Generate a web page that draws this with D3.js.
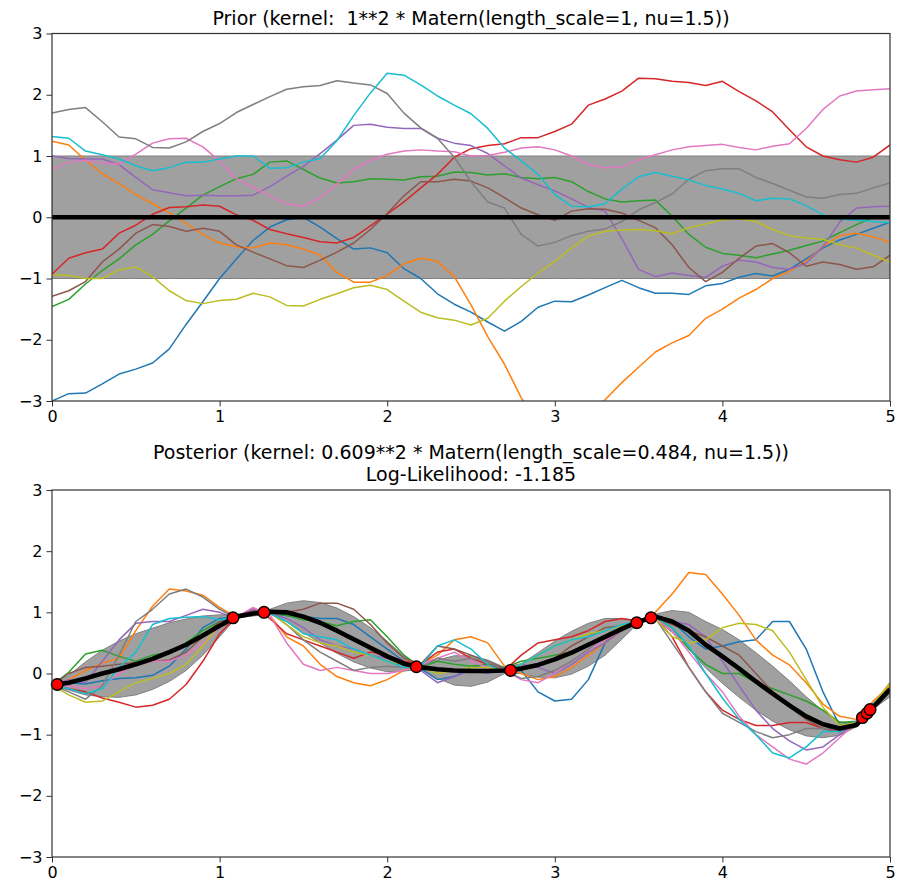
<!DOCTYPE html>
<html lang="en">
<head>
<meta charset="UTF-8">
<title>Gaussian process prior and posterior (Matern kernel)</title>
<script src="https://d3js.org/d3.v7.min.js"></script>
<style>
  body { margin: 0; background: #fff; font-family: "DejaVu Sans", sans-serif; }
  .tick text { font-family: "DejaVu Sans", sans-serif; fill: #000; }
  .tick line { stroke: #333; }
</style>
</head>
<body>
<div id="chart"></div>
<script>
// shared x grid 0 .. 5 step 0.1
const xs = d3.range(0, 51).map(i => i / 10);
const xTicks = [0, 1, 2, 3, 4, 5];
const yTicks = [-3, -2, -1, 0, 1, 2, 3];
const sampleColors = ["#1f77b4", "#ff7f0e", "#2ca02c", "#d62728", "#9467bd",
                      "#8c564b", "#e377c2", "#7f7f7f", "#bcbd22", "#17becf"];

// prior: mean 0, std 1
const priorMean = 0;
const priorStd = 1;

const priorBlue = [
  -3.0, -2.88, -2.87, -2.72, -2.56, -2.48, -2.38, -2.15, -1.75, -1.38,
  -1.0, -0.68, -0.38, -0.16, -0.04, 0.0, -0.16, -0.35, -0.52, -0.5,
  -0.58, -0.84, -1.0, -1.25, -1.42, -1.55, -1.71, -1.86, -1.7, -1.47,
  -1.37, -1.38, -1.27, -1.15, -1.03, -1.15, -1.24, -1.24, -1.26, -1.12,
  -1.08, -0.98, -0.92, -0.96, -0.85, -0.68, -0.5, -0.37, -0.28, -0.18, -0.08];
const priorOrange = [
  1.24, 1.18, 0.93, 0.71, 0.55, 0.37, 0.22, 0.07, -0.1, -0.28,
  -0.42, -0.48, -0.5, -0.42, -0.45, -0.52, -0.62, -0.9, -1.06, -1.06,
  -0.95, -0.76, -0.67, -0.72, -0.97, -1.43, -1.95, -2.4, -2.95, -3.3,
  -3.5, -3.5, -3.3, -2.98, -2.7, -2.45, -2.2, -2.05, -1.93, -1.65,
  -1.5, -1.32, -1.18, -1.0, -0.88, -0.72, -0.48, -0.3, -0.26, -0.32, -0.41];
const priorGreen = [
  -1.46, -1.34, -1.09, -0.87, -0.68, -0.45, -0.28, -0.06, 0.15, 0.36,
  0.5, 0.63, 0.7, 0.9, 0.92, 0.78, 0.64, 0.56, 0.58, 0.63,
  0.62, 0.61, 0.66, 0.67, 0.74, 0.73, 0.69, 0.71, 0.65, 0.63,
  0.65, 0.58, 0.42, 0.3, 0.25, 0.27, 0.28, 0.02, -0.28, -0.49,
  -0.59, -0.62, -0.66, -0.6, -0.54, -0.46, -0.39, -0.25, -0.12, 0.0, 0.03];
const priorRed = [
  -0.93, -0.67, -0.58, -0.52, -0.26, -0.13, 0.05, 0.16, 0.17, 0.2,
  0.18, 0.04, -0.05, -0.2, -0.27, -0.33, -0.4, -0.42, -0.33, -0.14,
  0.05, 0.25, 0.48, 0.7, 0.98, 1.12, 1.17, 1.2, 1.3, 1.3,
  1.4, 1.52, 1.83, 1.93, 2.06, 2.27, 2.26, 2.22, 2.2, 2.15,
  2.22, 2.05, 1.9, 1.72, 1.43, 1.15, 1.0, 0.94, 0.9, 0.98, 1.18];
const priorPurple = [
  1.0, 0.96, 0.95, 0.95, 0.86, 0.65, 0.45, 0.4, 0.35, 0.36,
  0.35, 0.35, 0.36, 0.5, 0.67, 0.83, 1.04, 1.26, 1.5, 1.52,
  1.47, 1.45, 1.45, 1.29, 1.21, 1.17, 1.04, 0.84, 0.64, 0.53,
  0.43, 0.3, 0.16, 0.1, -0.35, -0.85, -0.97, -0.91, -0.95, -0.98,
  -0.8, -0.7, -0.73, -0.82, -0.85, -0.75, -0.48, -0.08, 0.15, 0.17, 0.18];
const priorBrown = [
  -1.29, -1.2, -1.05, -0.73, -0.52, -0.26, -0.12, -0.15, -0.23, -0.18,
  -0.23, -0.45, -0.57, -0.68, -0.79, -0.82, -0.7, -0.57, -0.42, -0.2,
  0.06, 0.35, 0.58, 0.58, 0.62, 0.59, 0.48, 0.32, 0.15, 0.04,
  -0.05, 0.1, 0.14, 0.13, 0.07, -0.05, -0.17, -0.45, -0.82, -1.05,
  -0.9, -0.67, -0.47, -0.43, -0.58, -0.8, -0.73, -0.77, -0.85, -0.81, -0.62];
const priorPink = [
  0.78, 0.9, 0.93, 0.88, 0.87, 1.03, 1.21, 1.28, 1.29, 1.15,
  0.92, 0.63, 0.49, 0.35, 0.22, 0.18, 0.32, 0.54, 0.78, 0.93,
  1.03, 1.08, 1.1, 1.08, 1.07, 1.0, 1.01, 1.06, 1.13, 1.15,
  1.1, 1.0, 0.86, 0.81, 0.82, 0.94, 1.02, 1.1, 1.15, 1.17,
  1.19, 1.14, 1.1, 1.16, 1.2, 1.45, 1.76, 1.98, 2.06, 2.08, 2.1];
const priorGray = [
  1.7, 1.76, 1.79, 1.56, 1.31, 1.28, 1.14, 1.13, 1.23, 1.4,
  1.53, 1.71, 1.84, 1.97, 2.09, 2.13, 2.15, 2.23, 2.19, 2.16,
  2.02, 1.7, 1.46, 1.29, 0.98, 0.58, 0.25, 0.15, -0.28, -0.47,
  -0.41, -0.3, -0.23, -0.19, -0.07, 0.12, 0.24, 0.38, 0.62, 0.76,
  0.79, 0.79, 0.65, 0.55, 0.44, 0.33, 0.31, 0.37, 0.39, 0.48, 0.56];
const priorOlive = [
  -0.94, -0.95, -1.0, -1.0, -0.86, -0.81, -0.97, -1.2, -1.36, -1.41,
  -1.36, -1.34, -1.24, -1.3, -1.44, -1.45, -1.34, -1.25, -1.15, -1.11,
  -1.18, -1.37, -1.55, -1.64, -1.68, -1.76, -1.65, -1.37, -1.13, -0.91,
  -0.72, -0.5, -0.31, -0.23, -0.21, -0.2, -0.22, -0.27, -0.17, -0.11,
  -0.04, -0.02, -0.07, -0.2, -0.3, -0.34, -0.36, -0.45, -0.5, -0.62, -0.73];
const priorCyan = [
  1.32, 1.29, 1.08, 1.02, 0.95, 0.84, 0.76, 0.81, 0.9, 0.9,
  0.95, 1.0, 1.0, 0.8, 0.81, 0.9, 0.96, 1.25, 1.66, 2.03,
  2.35, 2.32, 2.16, 1.98, 1.83, 1.69, 1.45, 1.13, 0.92, 0.7,
  0.37, 0.18, 0.17, 0.22, 0.46, 0.66, 0.73, 0.67, 0.61, 0.52,
  0.46, 0.39, 0.27, 0.31, 0.3, 0.19, 0.04, -0.03, -0.05, -0.07, -0.09];

// posterior: observed points, mean and std
const obsX = [0.031, 1.080, 1.265, 2.174, 2.736, 3.489, 3.574, 4.835, 4.863, 4.881];
const obsY = [-0.18, 0.91, 1.0, 0.11, 0.05, 0.83, 0.91, -0.72, -0.65, -0.59];
const postMean = [
  -0.19, -0.15, -0.08, 0.0, 0.07, 0.15, 0.24, 0.35, 0.47, 0.62,
  0.78, 0.93, 0.98, 1.01, 1.0, 0.93, 0.83, 0.7, 0.56, 0.42,
  0.28, 0.16, 0.1, 0.07, 0.05, 0.04, 0.04, 0.05, 0.08, 0.14,
  0.23, 0.34, 0.47, 0.6, 0.73, 0.85, 0.93, 0.85, 0.7, 0.47,
  0.28, 0.08, -0.13, -0.33, -0.52, -0.7, -0.83, -0.9, -0.84, -0.55, -0.26];
const postStd = [
  0.01, 0.12, 0.27, 0.38, 0.46, 0.5, 0.5, 0.48, 0.42, 0.32,
  0.18, 0.02, 0.04, 0.04, 0.15, 0.26, 0.33, 0.37, 0.37, 0.33,
  0.25, 0.12, 0.03, 0.15, 0.24, 0.25, 0.18, 0.05, 0.08, 0.2,
  0.3, 0.35, 0.35, 0.3, 0.17, 0.02, 0.04, 0.18, 0.3, 0.38,
  0.44, 0.47, 0.47, 0.45, 0.4, 0.32, 0.22, 0.11, 0.03, 0.03, 0.12];

const postBlue = [
  -0.19, -0.15, -0.17, -0.12, -0.08, -0.07, -0.03, 0.12, 0.4, 0.75,
  0.9, 0.93, 0.97, 0.98, 0.95, 0.93, 0.9, 0.9, 0.8, 0.6,
  0.4, 0.2, 0.08, -0.1, -0.05, 0.1, 0.15, 0.08, 0.05, -0.3,
  -0.45, -0.42, -0.1, 0.5, 0.75, 0.85, 0.95, 0.85, 0.6, 0.4,
  0.45, 0.52, 0.55, 0.85, 0.85, 0.4, -0.3, -0.85, -0.78, -0.5, -0.25];
const postOrange = [
  -0.19, -0.1, 0.05, 0.17, 0.25, 0.7, 1.1, 1.38, 1.35, 1.28,
  1.08, 0.92, 0.98, 0.95, 0.6, 0.45, 0.15, -0.05, -0.15, -0.2,
  -0.1, 0.05, 0.15, 0.3, 0.55, 0.6, 0.5, 0.12, 0.0, -0.1,
  -0.05, 0.1, 0.3, 0.5, 0.7, 0.85, 1.0, 1.3, 1.65, 1.62,
  1.3, 0.95, 0.55, 0.3, 0.14, -0.15, -0.5, -0.7, -0.75, -0.45, -0.2];
const postGreen = [
  -0.19, 0.02, 0.32, 0.38, 0.28, 0.2, 0.3, 0.35, 0.5, 0.7,
  0.85, 0.93, 1.0, 1.0, 0.95, 0.88, 0.85, 0.78, 0.85, 0.88,
  0.6, 0.3, 0.1, 0.2, 0.15, 0.12, 0.15, 0.1, 0.2, 0.25,
  0.3, 0.35, 0.5, 0.55, 0.7, 0.85, 0.9, 0.75, 0.4, 0.15,
  0.0, 0.0, -0.15, -0.25, -0.35, -0.45, -0.6, -0.8, -0.78, -0.5, -0.3];
const postRed = [
  -0.19, -0.25, -0.3, -0.4, -0.47, -0.55, -0.52, -0.42, -0.18, 0.2,
  0.65, 0.93, 1.05, 0.9, 0.65, 0.55, 0.45, 0.35, 0.25, 0.35,
  0.3, 0.2, 0.15, 0.35, 0.4, 0.25, 0.15, 0.05, 0.3, 0.5,
  0.55, 0.6, 0.7, 0.85, 0.9, 0.85, 0.9, 0.6, 0.1, -0.3,
  -0.6, -0.75, -0.85, -0.85, -0.8, -0.8, -0.9, -0.95, -0.8, -0.5, -0.25];
const postPurple = [
  -0.19, -0.1, -0.15, 0.2, 0.55, 0.82, 0.85, 0.85, 0.95, 1.05,
  1.0, 0.9, 1.05, 0.98, 0.9, 0.75, 0.55, 0.45, 0.4, 0.3,
  0.25, 0.15, 0.05, -0.15, -0.05, 0.05, 0.0, 0.1, 0.15, 0.1,
  0.0, 0.15, 0.35, 0.5, 0.7, 0.85, 0.9, 0.85, 0.8, 0.6,
  0.2, -0.2, -0.6, -0.9, -1.1, -1.25, -1.2, -1.0, -0.8, -0.55, -0.3];
const postBrown = [
  -0.19, 0.0, 0.1, 0.12, 0.15, 0.18, 0.2, 0.22, 0.35, 0.6,
  0.85, 0.92, 1.02, 1.02, 1.0, 1.05, 1.15, 1.15, 1.05, 0.8,
  0.5, 0.25, 0.15, 0.45, 0.4, 0.3, 0.2, 0.08, 0.1, 0.15,
  0.25, 0.45, 0.6, 0.75, 0.78, 0.82, 0.9, 0.8, 0.7, 0.6,
  0.45, 0.3, 0.0, -0.3, -0.55, -0.75, -0.9, -0.95, -0.8, -0.55, -0.3];
const postPink = [
  -0.19, -0.2, -0.25, -0.2, 0.0, 0.15, 0.2, 0.2, 0.3, 0.5,
  0.75, 0.92, 1.08, 0.95, 0.5, 0.15, 0.05, 0.1, 0.05, 0.0,
  0.0, 0.05, 0.15, 0.25, 0.35, 0.2, 0.1, 0.05, -0.1, -0.15,
  0.0, 0.2, 0.4, 0.55, 0.7, 0.85, 0.9, 0.7, 0.35, 0.0,
  -0.3, -0.7, -1.0, -1.2, -1.4, -1.48, -1.3, -1.05, -0.8, -0.5, -0.3];
const postGray = [
  -0.19, -0.3, -0.42, -0.2, 0.3, 0.85, 1.05, 1.3, 1.38, 1.25,
  1.05, 0.9, 1.0, 1.0, 0.8, 0.55, 0.35, 0.2, 0.05, 0.1,
  0.12, 0.1, 0.1, 0.25, 0.2, 0.25, 0.2, 0.05, -0.08, -0.05,
  0.05, 0.2, 0.4, 0.6, 0.75, 0.85, 0.9, 0.5, 0.1, -0.3,
  -0.65, -0.8, -0.95, -1.05, -1.0, -0.9, -0.9, -0.9, -0.78, -0.5, -0.25];
const postOlive = [
  -0.19, -0.35, -0.47, -0.45, -0.3, -0.15, -0.08, 0.0, 0.15, 0.45,
  0.8, 0.92, 1.0, 1.0, 0.8, 0.6, 0.5, 0.45, 0.35, 0.3,
  0.2, 0.15, 0.1, 0.0, 0.05, 0.1, 0.1, 0.05, 0.15, 0.3,
  0.45, 0.55, 0.65, 0.7, 0.78, 0.85, 0.9, 0.6, 0.5, 0.55,
  0.75, 0.82, 0.8, 0.7, 0.35, -0.1, -0.55, -0.85, -0.8, -0.5, -0.15];
const postCyan = [
  -0.19, -0.25, -0.33, -0.25, 0.1, 0.35, 0.8, 0.9, 0.92, 0.93,
  0.88, 0.92, 1.0, 0.98, 0.85, 0.65, 0.6, 0.55, 0.4, 0.3,
  0.2, 0.1, 0.12, 0.45, 0.55, 0.4, 0.15, 0.02, 0.15, 0.3,
  0.45, 0.55, 0.6, 0.7, 0.8, 0.85, 0.92, 0.75, 0.45, 0.0,
  -0.4, -0.75, -1.0, -1.3, -1.38, -1.2, -0.95, -0.95, -0.8, -0.5, -0.25];

const priorSamples = [priorBlue, priorOrange, priorGreen, priorRed, priorPurple,
                      priorBrown, priorPink, priorGray, priorOlive, priorCyan];
const postSamples = [postBlue, postOrange, postGreen, postRed, postPurple,
                     postBrown, postPink, postGray, postOlive, postCyan];

const width = 899, height = 881;
const left = 52, right = 890;

const svg = d3.select("#chart").append("svg")
  .attr("width", width)
  .attr("height", height)
  .style("display", "block");

const x = d3.scaleLinear().domain([0, 5]).range([left, right]);

function drawPanel(id, top, bottom, band, samples, mean, points) {
  const y = d3.scaleLinear().domain([-3, 3]).range([bottom, top]);

  svg.append("clipPath").attr("id", id)
    .append("rect")
    .attr("x", left).attr("y", top)
    .attr("width", right - left).attr("height", bottom - top);

  const g = svg.append("g").attr("clip-path", `url(#${id})`);

  // +/- std band
  const area = d3.area()
    .x((d, i) => x(xs[i]))
    .y0((d, i) => y(band.mean(i) - band.std(i)))
    .y1((d, i) => y(band.mean(i) + band.std(i)));
  g.append("path")
    .datum(xs)
    .attr("d", area)
    .attr("fill", "#a0a0a0")
    .attr("stroke", "#808080")
    .attr("stroke-width", 1);

  const line = d3.line()
    .x((d, i) => x(xs[i]))
    .y(d => y(d));

  g.selectAll("path.sample")
    .data(samples)
    .enter().append("path")
    .attr("class", "sample")
    .attr("d", line)
    .attr("fill", "none")
    .attr("stroke", (d, i) => sampleColors[i])
    .attr("stroke-width", 1.5)
    .attr("stroke-linejoin", "round");

  g.append("path")
    .datum(mean)
    .attr("d", line)
    .attr("fill", "none")
    .attr("stroke", "#000")
    .attr("stroke-width", 4.6)
    .attr("stroke-linejoin", "round");

  if (points) {
    svg.append("g").selectAll("circle")
      .data(points.x)
      .enter().append("circle")
      .attr("cx", d => x(d))
      .attr("cy", (d, i) => y(points.y[i]))
      .attr("r", 5.8)
      .attr("fill", "#ff0000")
      .attr("stroke", "#000")
      .attr("stroke-width", 1.4);
  }

  // axes
  const xAxis = d3.axisBottom(x).tickValues(xTicks).tickSize(5.5).tickPadding(4)
    .tickFormat(d3.format("d"));
  const yAxis = d3.axisLeft(y).tickValues(yTicks).tickSize(5.5).tickPadding(4)
    .tickFormat(d3.format("d"));

  svg.append("g").attr("transform", `translate(0,${bottom})`).call(xAxis)
    .call(s => s.select(".domain").remove());
  svg.append("g").attr("transform", `translate(${left},0)`).call(yAxis)
    .call(s => s.select(".domain").remove());

  svg.append("rect")
    .attr("x", left).attr("y", top)
    .attr("width", right - left).attr("height", bottom - top)
    .attr("fill", "none")
    .attr("stroke", "#333")
    .attr("stroke-width", 1.2);
}

drawPanel("clipTop", 33.5, 401,
  {mean: () => priorMean, std: () => priorStd},
  priorSamples, xs.map(() => priorMean), null);

drawPanel("clipBottom", 490, 857,
  {mean: i => postMean[i], std: i => postStd[i]},
  postSamples, postMean, {x: obsX, y: obsY});

svg.selectAll(".tick text").attr("font-size", 16).attr("font-family", "DejaVu Sans");

// titles
const titleX = (left + right) / 2;
svg.append("text")
  .attr("x", titleX).attr("y", 25)
  .attr("text-anchor", "middle")
  .attr("font-size", 19)
  .style("white-space", "pre")
  .text("Prior (kernel:  1**2 * Matern(length_scale=1, nu=1.5))");

svg.append("text")
  .attr("x", titleX).attr("y", 459)
  .attr("text-anchor", "middle")
  .attr("font-size", 19)
  .text("Posterior (kernel: 0.609**2 * Matern(length_scale=0.484, nu=1.5))");

svg.append("text")
  .attr("x", titleX).attr("y", 481)
  .attr("text-anchor", "middle")
  .attr("font-size", 19)
  .text("Log-Likelihood: -1.185");
</script>
</body>
</html>
